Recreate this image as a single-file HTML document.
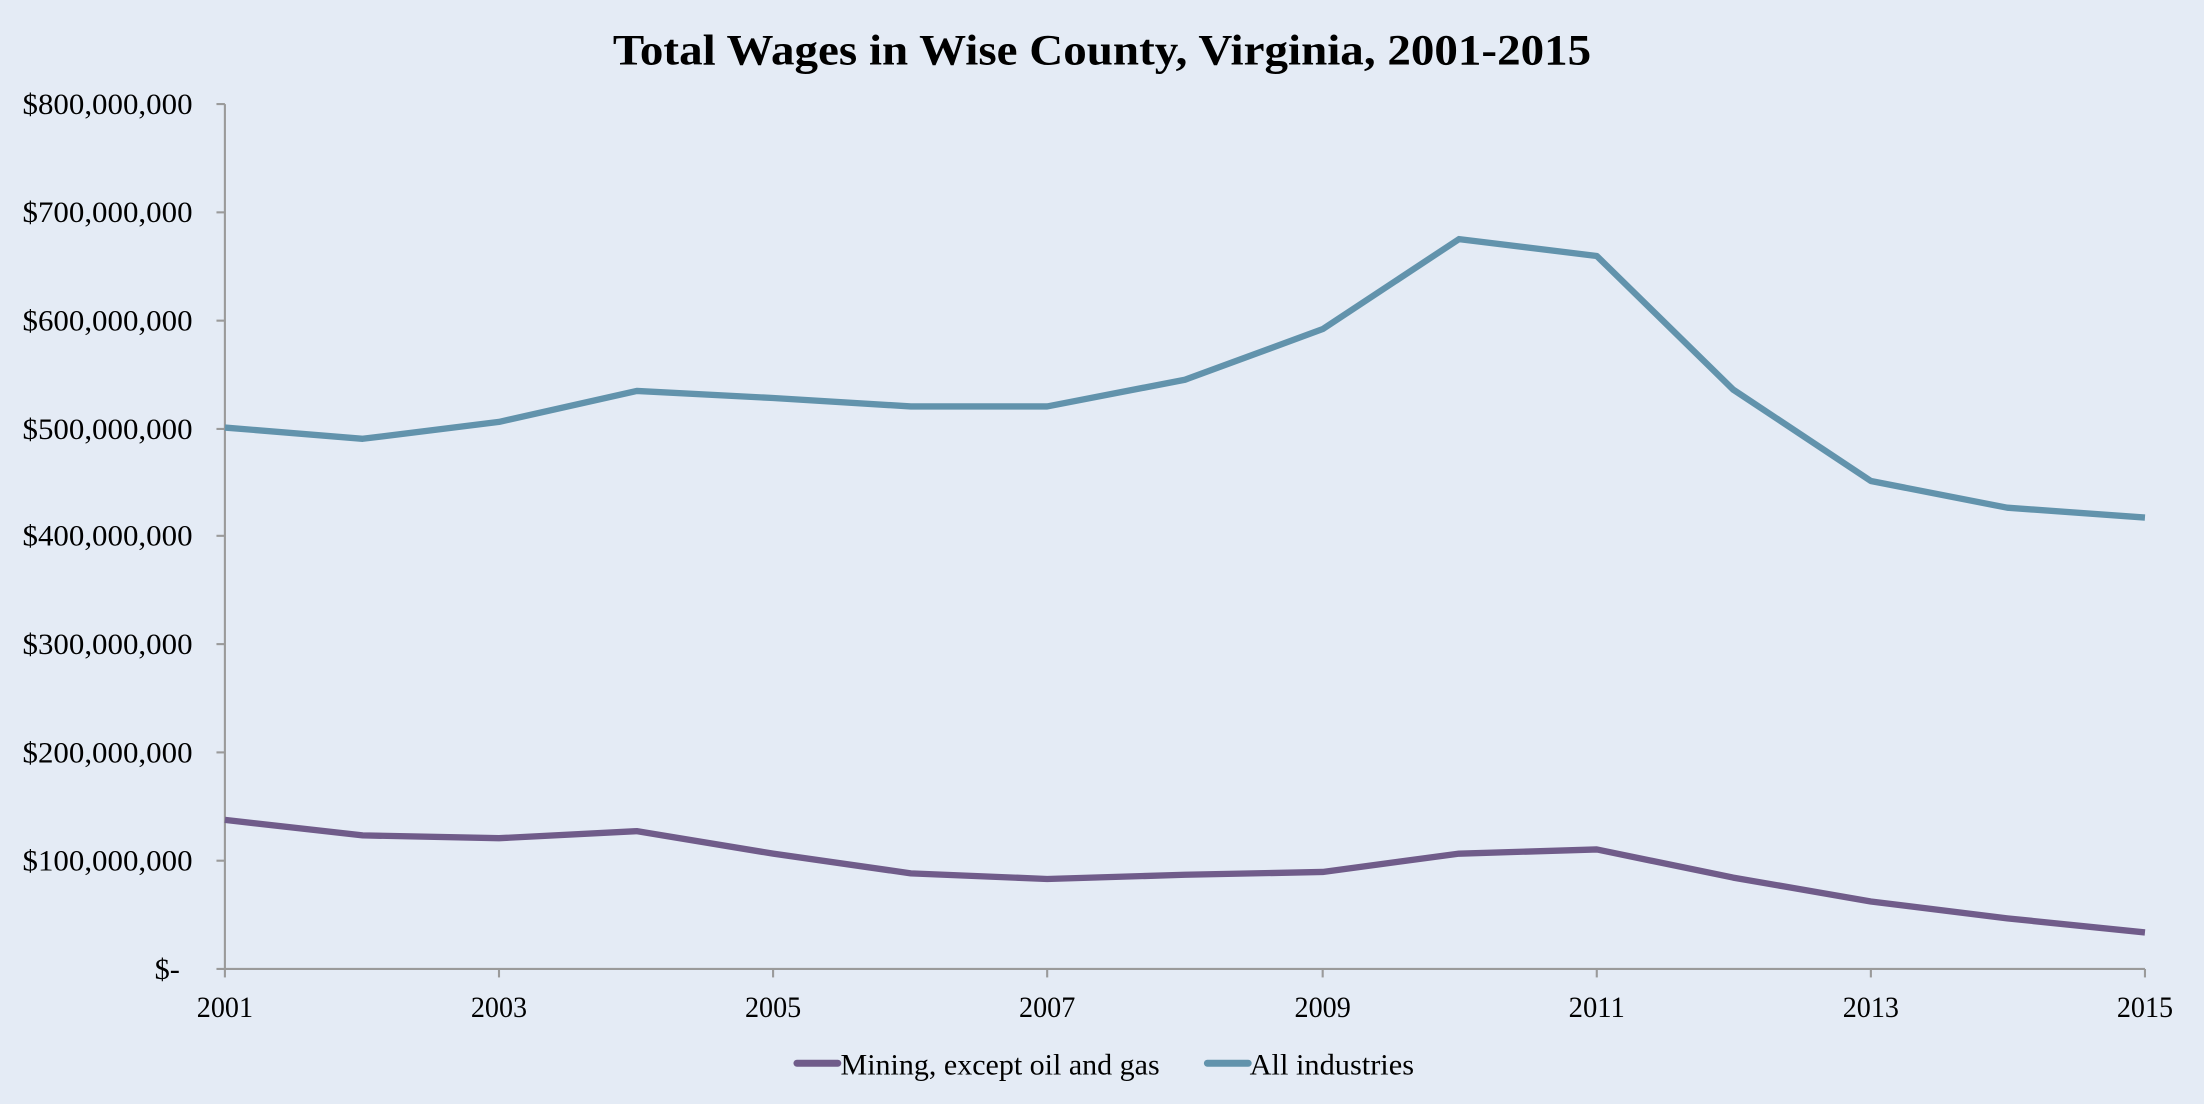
<!DOCTYPE html>
<html><head><meta charset="utf-8"><style>
html,body{margin:0;padding:0;background:#e4ebf5;}
svg{display:block;}
text{font-family:"Liberation Serif",serif;fill:#000;}
</style></head><body>
<svg width="2204" height="1104" viewBox="0 0 1568 785" preserveAspectRatio="none" xmlns="http://www.w3.org/2000/svg">
<rect width="1568" height="785" fill="#e4ebf5"/>
<text x="784" y="46" font-size="31" font-weight="bold" text-anchor="middle" textLength="696" lengthAdjust="spacingAndGlyphs">Total Wages in Wise County, Virginia, 2001-2015</text>
<g stroke="#9a9a9a" stroke-width="1.5" fill="none">
<line x1="160" y1="74" x2="160" y2="689"/>
<line x1="154" y1="689" x2="1526" y2="689"/>
<line x1="154" y1="74" x2="160" y2="74"/>
<line x1="154" y1="151" x2="160" y2="151"/>
<line x1="154" y1="228" x2="160" y2="228"/>
<line x1="154" y1="305" x2="160" y2="305"/>
<line x1="154" y1="381" x2="160" y2="381"/>
<line x1="154" y1="458" x2="160" y2="458"/>
<line x1="154" y1="535" x2="160" y2="535"/>
<line x1="154" y1="612" x2="160" y2="612"/>
<line x1="160" y1="689" x2="160" y2="695"/>
<line x1="355" y1="689" x2="355" y2="695"/>
<line x1="550" y1="689" x2="550" y2="695"/>
<line x1="745" y1="689" x2="745" y2="695"/>
<line x1="941" y1="689" x2="941" y2="695"/>
<line x1="1136" y1="689" x2="1136" y2="695"/>
<line x1="1331" y1="689" x2="1331" y2="695"/>
<line x1="1526" y1="689" x2="1526" y2="695"/>
</g>
<g font-size="21">
<text x="16" y="81" textLength="121" lengthAdjust="spacingAndGlyphs">$800,000,000</text>
<text x="16" y="158" textLength="121" lengthAdjust="spacingAndGlyphs">$700,000,000</text>
<text x="16" y="235" textLength="121" lengthAdjust="spacingAndGlyphs">$600,000,000</text>
<text x="16" y="312" textLength="121" lengthAdjust="spacingAndGlyphs">$500,000,000</text>
<text x="16" y="388" textLength="121" lengthAdjust="spacingAndGlyphs">$400,000,000</text>
<text x="16" y="465" textLength="121" lengthAdjust="spacingAndGlyphs">$300,000,000</text>
<text x="16" y="542" textLength="121" lengthAdjust="spacingAndGlyphs">$200,000,000</text>
<text x="16" y="619" textLength="121" lengthAdjust="spacingAndGlyphs">$100,000,000</text>
<text x="110" y="696" textLength="18" lengthAdjust="spacingAndGlyphs">$-</text>
</g>
<g font-size="21" text-anchor="middle">
<text x="160" y="723" textLength="40" lengthAdjust="spacingAndGlyphs">2001</text>
<text x="355" y="723" textLength="40" lengthAdjust="spacingAndGlyphs">2003</text>
<text x="550" y="723" textLength="40" lengthAdjust="spacingAndGlyphs">2005</text>
<text x="745" y="723" textLength="40" lengthAdjust="spacingAndGlyphs">2007</text>
<text x="941" y="723" textLength="40" lengthAdjust="spacingAndGlyphs">2009</text>
<text x="1136" y="723" textLength="40" lengthAdjust="spacingAndGlyphs">2011</text>
<text x="1331" y="723" textLength="40" lengthAdjust="spacingAndGlyphs">2013</text>
<text x="1526" y="723" textLength="40" lengthAdjust="spacingAndGlyphs">2015</text>
</g>
<polyline fill="none" stroke="#6293ac" stroke-width="4.5" stroke-linejoin="round" points="160,304 258,312 355,300 453,278 550,283 648,289 745,289 843,270 941,234 1038,170 1136,182 1233,277 1331,342 1428,361 1526,368"/>
<polyline fill="none" stroke="#705c8a" stroke-width="4.5" stroke-linejoin="round" points="160,583 258,594 355,596 453,591 550,607 648,621 745,625 843,622 941,620 1038,607 1136,604 1233,624 1331,641 1428,653 1526,663"/>
<line x1="567" y1="756" x2="596" y2="756" stroke="#705c8a" stroke-width="5" stroke-linecap="round"/>
<text x="598" y="764" font-size="21" textLength="227" lengthAdjust="spacingAndGlyphs">Mining, except oil and gas</text>
<line x1="859" y1="756" x2="888" y2="756" stroke="#6293ac" stroke-width="5" stroke-linecap="round"/>
<text x="889" y="764" font-size="21" textLength="117" lengthAdjust="spacingAndGlyphs">All industries</text>
</svg>
</body></html>
